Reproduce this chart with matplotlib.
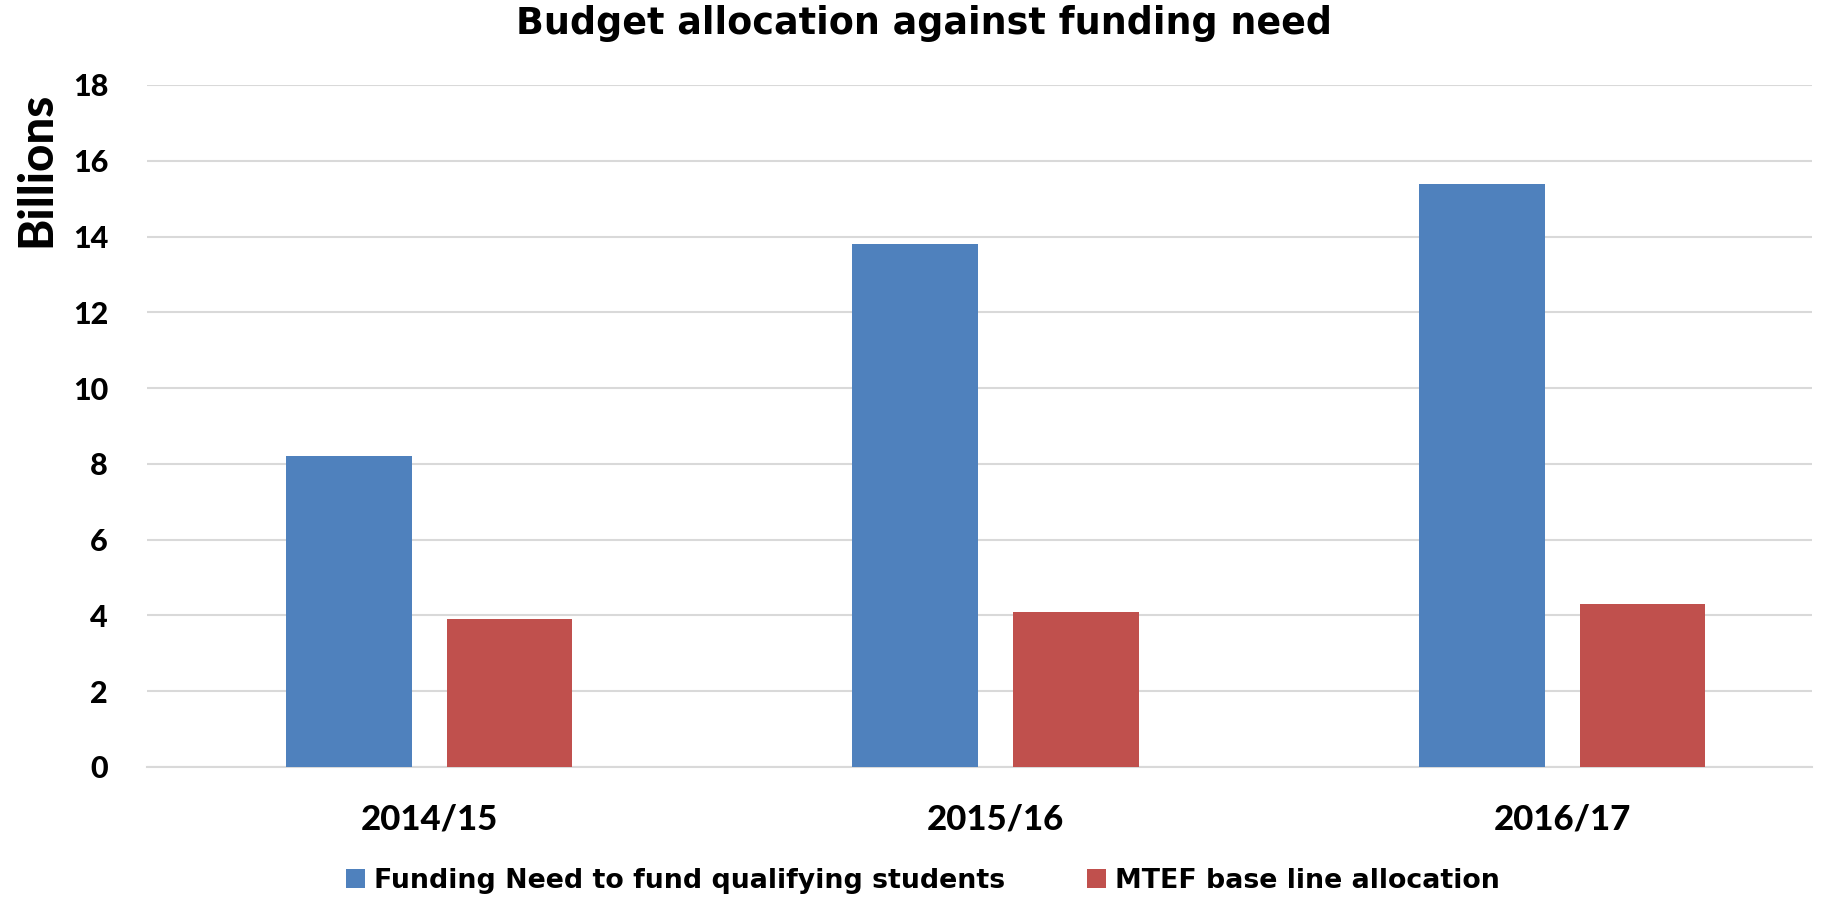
import matplotlib
matplotlib.use("Agg")
import matplotlib.pyplot as plt
import numpy as np
from matplotlib.patches import Patch

categories = ["2014/15", "2015/16", "2016/17"]
funding_need = [8.2, 13.8, 15.4]
mtef_allocation = [3.9, 4.1, 4.3]
series_names = ["Funding Need to fund qualifying students", "MTEF base line allocation"]
yticks = [0, 2, 4, 6, 8, 10, 12, 14, 16, 18]

BLUE = "#4F81BD"
RED = "#C0504D"
GRID = "#D9D9D9"

fig = plt.figure(figsize=(18.49, 9.0), dpi=100)
ax = fig.add_axes([147/1849, 1-767/900, (1812-147)/1849, (767-85)/900])

x = np.arange(len(categories))
w = 0.222
off = 0.142
ax.bar(x - off, funding_need, width=w, color=BLUE, zorder=3)
ax.bar(x + off, mtef_allocation, width=w, color=RED, zorder=3)

ax.set_xlim(-0.498, len(categories) - 1 + 0.441)
ax.set_ylim(0, 18)
ax.set_yticks(yticks)
ax.set_yticklabels([str(t) for t in yticks], fontfamily="Lato", fontweight="black", fontsize=22)
ax.set_xticks(x)
ax.set_xticklabels(categories, fontfamily="Lato", fontweight="black", fontsize=25)
ax.tick_params(axis="y", length=0, pad=28)
ax.tick_params(axis="x", length=0, pad=26)
ax.yaxis.grid(True, color=GRID, linewidth=1.5, zorder=0)
ax.set_axisbelow(True)
for s in ["top", "right", "left"]:
    ax.spines[s].set_visible(False)
ax.spines["bottom"].set_color(GRID)
ax.spines["bottom"].set_linewidth(1.5)

fig.text(924, 900-23, "Budget allocation against funding need", transform=None,
         ha="center", va="center", fontfamily="DejaVu Sans", fontweight="bold", fontsize=26.3)
fig.text(36, 900-169, "Billions", transform=None, rotation=90, ha="center", va="center",
         fontfamily="Lato", fontweight="black", fontsize=34)

handles = [Patch(facecolor=BLUE), Patch(facecolor=RED)]
fig.legend(handles, series_names, loc="center", bbox_to_anchor=(923/1849, 1-881/900),
           ncol=2, frameon=False, prop={"family": "DejaVu Sans", "weight": "bold", "size": 19.3},
           handlelength=0.70, handleheight=0.70, handletextpad=0.35, columnspacing=3.06)

fig.savefig("out.png", dpi=100)
